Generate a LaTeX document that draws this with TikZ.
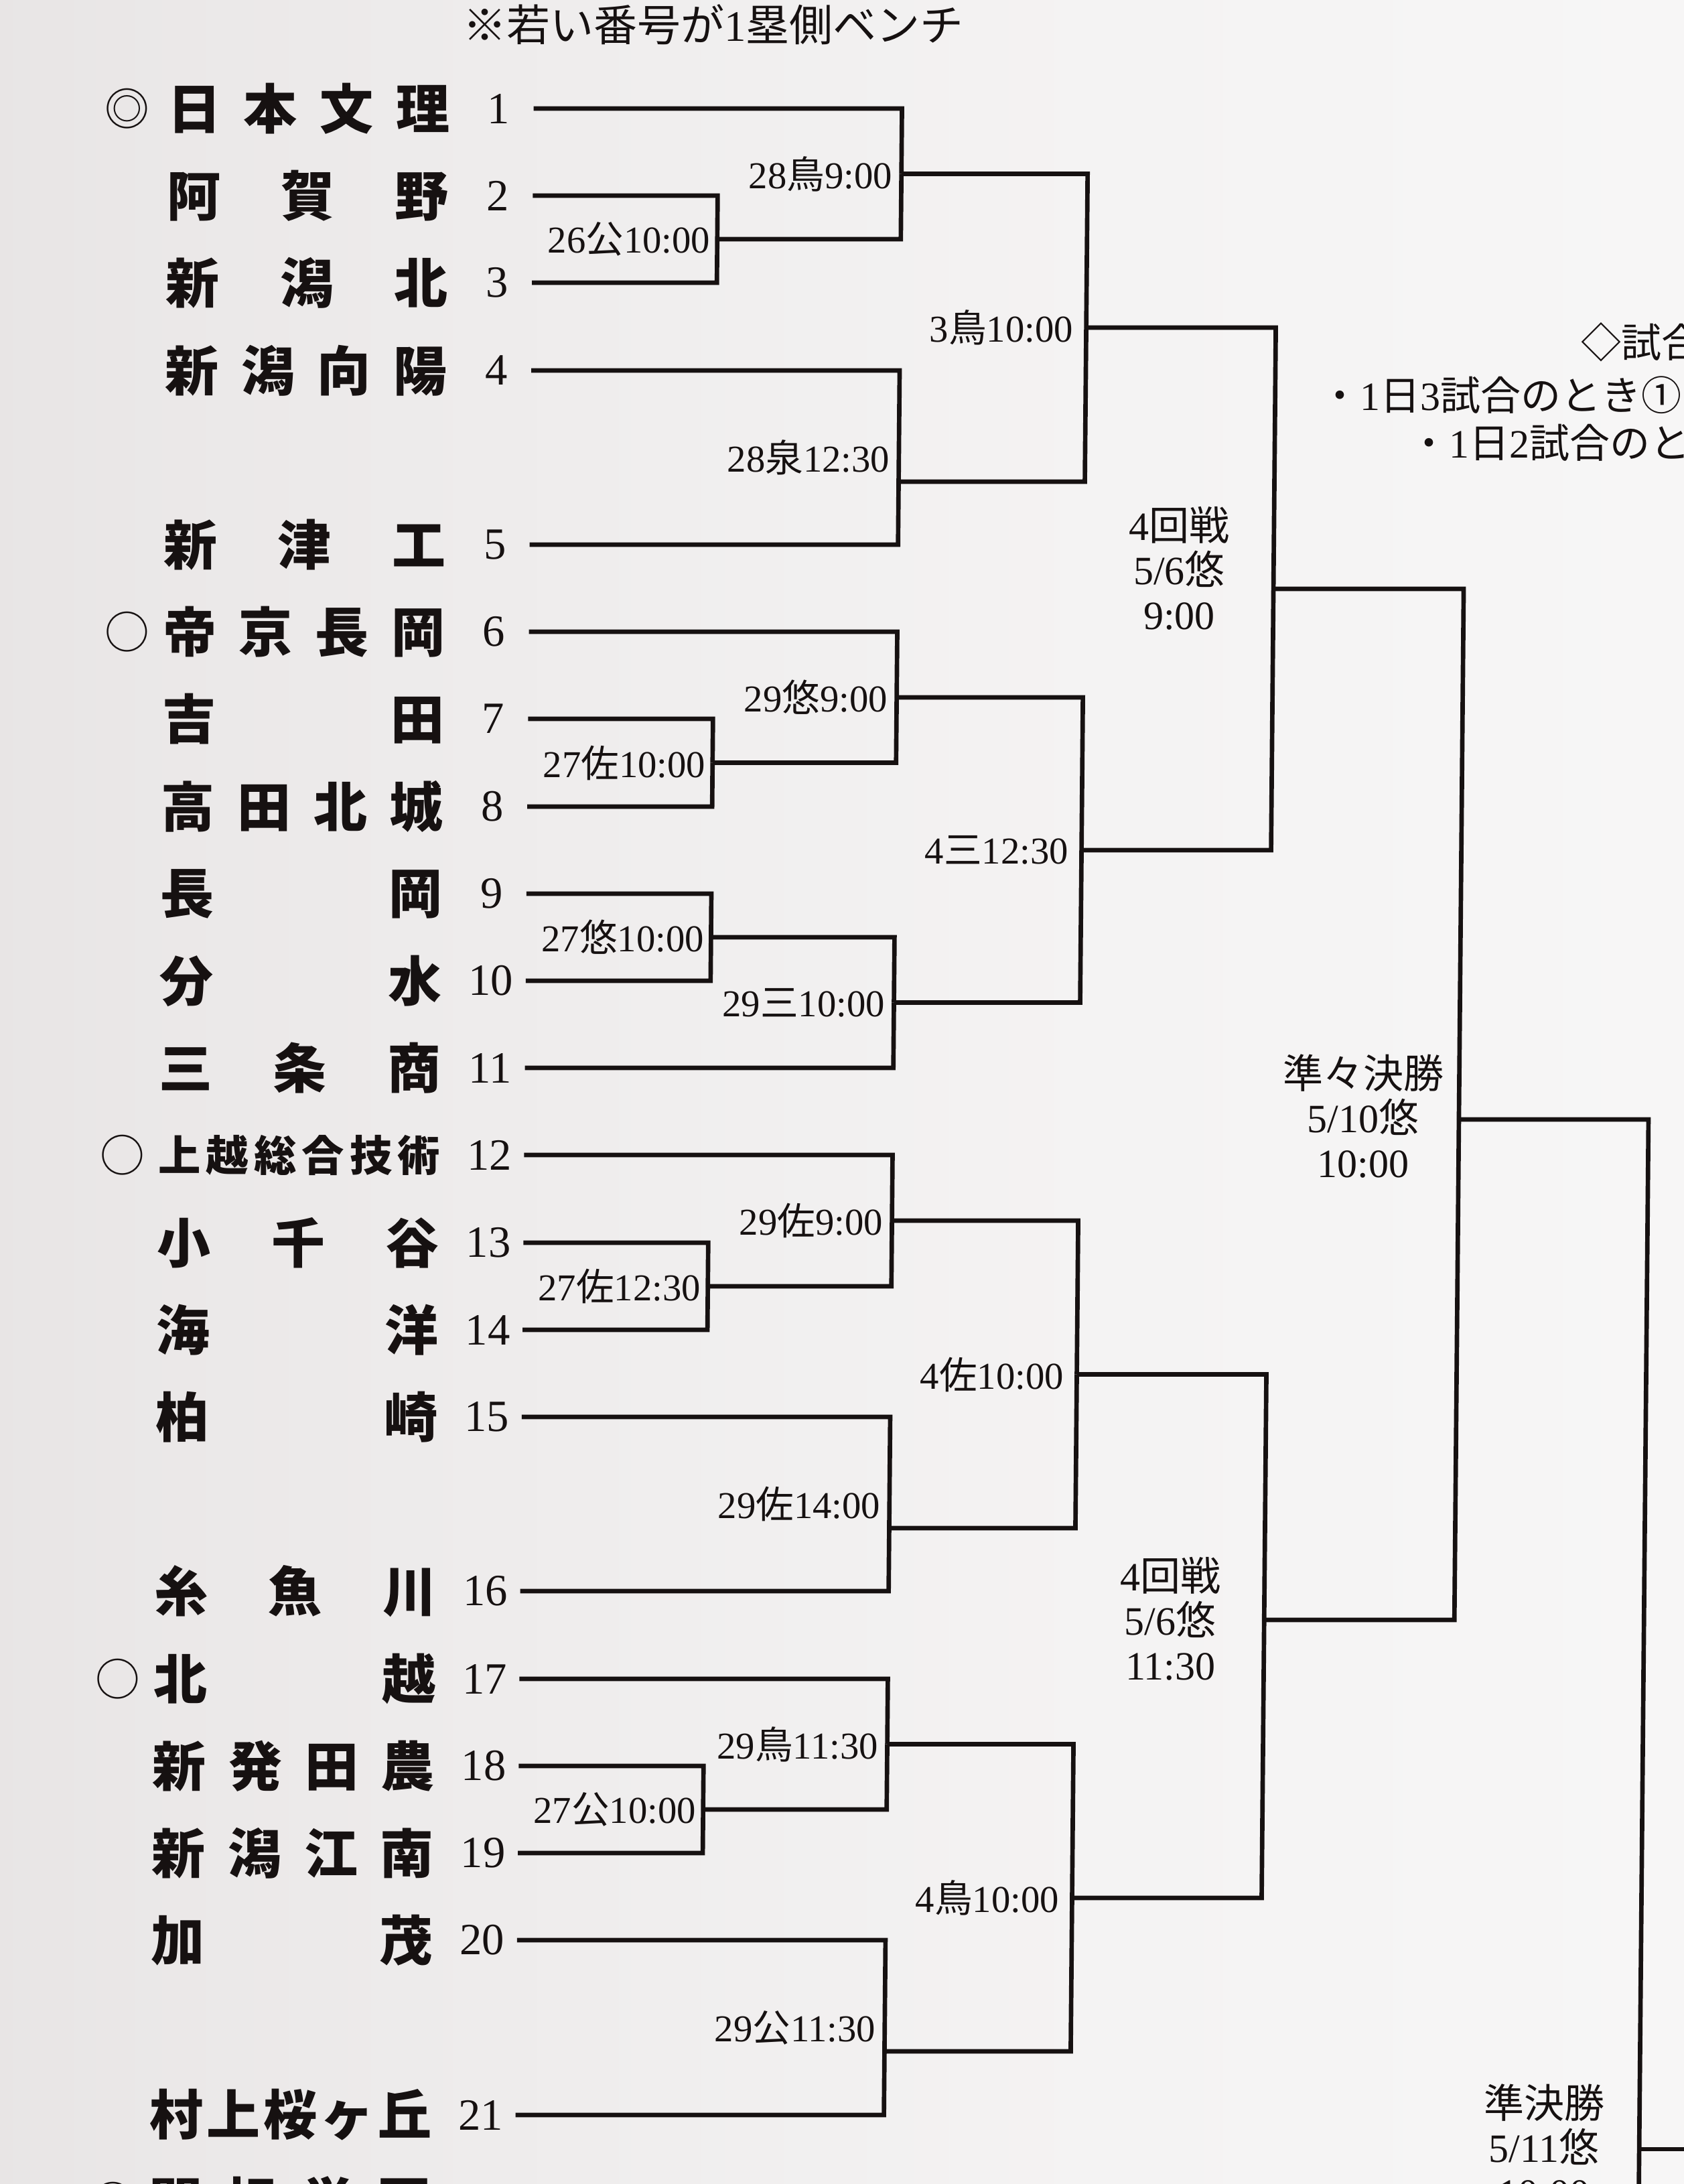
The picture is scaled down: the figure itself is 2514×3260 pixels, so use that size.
\documentclass[tikz,border=0pt]{standalone}
\usepackage{fontspec}
\setmainfont{Liberation Serif}
\newfontfamily\jp{Noto Sans CJK JP}
\newcommand\J[1]{{\jp #1}}
\newcommand\tn[1]{\hbox to 126.3pt{#1}}
\definecolor{ink}{RGB}{22,17,17}
\pgfdeclarehorizontalshading{paper}{100bp}{rgb(0bp)=(0.86,0.845,0.845); rgb(30bp)=(0.92,0.91,0.91); rgb(55bp)=(0.955,0.95,0.95); rgb(100bp)=(0.985,0.985,0.985)}
\begin{document}
\begin{tikzpicture}[x=0.3pt,y=-0.3pt,
  ln/.style={draw=ink,line width=2pt},
  team/.style={anchor=west,inner sep=0pt,text=ink,font=\fontsize{24}{28}\jp\bfseries},
  smallteam/.style={team,font=\fontsize{19}{24}\jp\bfseries},
  sym/.style={inner sep=0pt,text=ink,font=\fontsize{20}{24}\jp},
  num/.style={inner sep=0pt,text=ink,font=\fontsize{20}{24}\selectfont},
  lab/.style={anchor=east,inner sep=0pt,text=ink,font=\fontsize{17}{20}\selectfont},
  rnd/.style={align=center,inner sep=0pt,text=ink,font=\fontsize{18}{20}\selectfont},
  note/.style={anchor=west,inner sep=0pt,text=ink,font=\fontsize{18}{22}\selectfont}]
\useasboundingbox (0,0) rectangle (2514,3260);
\clip (0,0) rectangle (2514,3260);
\shade[shading=paper] (0,0) rectangle (2514,3260);

% header and notes
\node[note,anchor=center,font=\fontsize{19.5}{22}\selectfont] (head) at (1065,37) {\J{※若い番号が}1\J{塁側ベンチ}};
\node[note] (w1) at (2360,511) {\J{◇試合}};
\node[note] (w2) at (1970,590) {\J{・}1\J{日}3\J{試合のとき①}};
\node[note] (w3) at (2103,661) {\J{・}1\J{日}2\J{試合のと}};

\begin{scope}[xslant=0.009]
% team line start points
\coordinate (t1) at (798,162);
\coordinate (t2) at (798,292);
\coordinate (t3) at (798,422);
\coordinate (t4) at (798,553);
\coordinate (t5) at (798,813);
\coordinate (t6) at (798,943);
\coordinate (t7) at (798,1073);
\coordinate (t8) at (798,1204);
\coordinate (t9) at (798,1334);
\coordinate (t10) at (798,1464);
\coordinate (t11) at (798,1594);
\coordinate (t12) at (798,1724);
\coordinate (t13) at (798,1855);
\coordinate (t14) at (798,1985);
\coordinate (t15) at (798,2115);
\coordinate (t16) at (798,2375);
\coordinate (t17) at (798,2506);
\coordinate (t18) at (798,2636);
\coordinate (t19) at (798,2766);
\coordinate (t20) at (798,2896);
\coordinate (t21) at (798,3157);
% match junctions
\coordinate (m23) at (1074,357);
\coordinate (m78) at (1074,1138.5);
\coordinate (m910) at (1074,1399);
\coordinate (m1314) at (1074,1920);
\coordinate (m1819) at (1074,2701);
\coordinate (a1) at (1348,259.5);
\coordinate (a45) at (1348,719);
\coordinate (a6) at (1348,1041);
\coordinate (a11) at (1348,1496.5);
\coordinate (a12) at (1348,1822);
\coordinate (a1516) at (1348,2281);
\coordinate (a17) at (1348,2603.5);
\coordinate (a2021) at (1348,3062);
\coordinate (b1) at (1626,489);
\coordinate (b2) at (1626,1269);
\coordinate (b3) at (1626,2051.5);
\coordinate (b4) at (1626,2833);
\coordinate (c1) at (1909,879);
\coordinate (c2) at (1909,2418);
\coordinate (q) at (2193,1671);
\coordinate (s) at (2476,3208);
\coordinate (sbot) at (2476,3420);
\coordinate (send) at (2640,3208);

% bracket lines
\draw[ln] (t2) -| (m23);  \draw[ln] (t3) -| (m23);
\draw[ln] (t1) -| (a1);   \draw[ln] (m23) -| (a1);
\draw[ln] (t4) -| (a45);  \draw[ln] (t5) -| (a45);
\draw[ln] (a1) -| (b1);   \draw[ln] (a45) -| (b1);
\draw[ln] (t7) -| (m78);  \draw[ln] (t8) -| (m78);
\draw[ln] (t6) -| (a6);   \draw[ln] (m78) -| (a6);
\draw[ln] (t9) -| (m910); \draw[ln] (t10) -| (m910);
\draw[ln] (m910) -| (a11); \draw[ln] (t11) -| (a11);
\draw[ln] (a6) -| (b2);   \draw[ln] (a11) -| (b2);
\draw[ln] (b1) -| (c1);   \draw[ln] (b2) -| (c1);
\draw[ln] (t13) -| (m1314); \draw[ln] (t14) -| (m1314);
\draw[ln] (t12) -| (a12); \draw[ln] (m1314) -| (a12);
\draw[ln] (t15) -| (a1516); \draw[ln] (t16) -| (a1516);
\draw[ln] (a12) -| (b3);  \draw[ln] (a1516) -| (b3);
\draw[ln] (t18) -| (m1819); \draw[ln] (t19) -| (m1819);
\draw[ln] (t17) -| (a17); \draw[ln] (m1819) -| (a17);
\draw[ln] (t20) -| (a2021); \draw[ln] (t21) -| (a2021);
\draw[ln] (a17) -| (b4);  \draw[ln] (a2021) -| (b4);
\draw[ln] (b3) -| (c2);   \draw[ln] (b4) -| (c2);
\draw[ln] (c1) -| (q);    \draw[ln] (c2) -| (q);
\draw[ln] (q) -| (s);     \draw[ln] (sbot) -- (s);
\draw[ln] (s) -- (send);

% seed marks
\node[sym] (o1) at (191,162) {◎};
\node[sym] (o6) at (198,943) {○};
\node[sym] (o12) at (198,1724) {○};
\node[sym] (o17) at (198,2506) {○};
\node[sym] (o22) at (198,3287) {○};

% team names
\node[team] (n1) at (251,162) {\tn{日\hfill 本\hfill 文\hfill 理}};
\node[team] (n2) at (251,292) {\tn{阿\hfill 賀\hfill 野}};
\node[team] (n3) at (251,422) {\tn{新\hfill 潟\hfill 北}};
\node[team] (n4) at (251,553) {\tn{新\hfill 潟\hfill 向\hfill 陽}};
\node[team] (n5) at (251,813) {\tn{新\hfill 津\hfill 工}};
\node[team] (n6) at (251,943) {\tn{帝\hfill 京\hfill 長\hfill 岡}};
\node[team] (n7) at (251,1073) {\tn{吉\hfill 田}};
\node[team] (n8) at (251,1204) {\tn{高\hfill 田\hfill 北\hfill 城}};
\node[team] (n9) at (251,1334) {\tn{長\hfill 岡}};
\node[team] (n10) at (251,1464) {\tn{分\hfill 水}};
\node[team] (n11) at (251,1594) {\tn{三\hfill 条\hfill 商}};
\node[smallteam] (n12) at (251,1724) {\tn{上\hfill 越\hfill 総\hfill 合\hfill 技\hfill 術}};
\node[team] (n13) at (251,1855) {\tn{小\hfill 千\hfill 谷}};
\node[team] (n14) at (251,1985) {\tn{海\hfill 洋}};
\node[team] (n15) at (251,2115) {\tn{柏\hfill 崎}};
\node[team] (n16) at (251,2375) {\tn{糸\hfill 魚\hfill 川}};
\node[team] (n17) at (251,2506) {\tn{北\hfill 越}};
\node[team] (n18) at (251,2636) {\tn{新\hfill 発\hfill 田\hfill 農}};
\node[team] (n19) at (251,2766) {\tn{新\hfill 潟\hfill 江\hfill 南}};
\node[team] (n20) at (251,2896) {\tn{加\hfill 茂}};
\node[team] (n21) at (251,3157) {\tn{村\hfill 上\hfill 桜\hfill ヶ\hfill 丘}};
\node[team] (n22) at (251,3287) {\tn{関\hfill 根\hfill 学\hfill 園}};

% numbers
\node[num] (k1) at (746,162) {1};
\node[num] (k2) at (746,292) {2};
\node[num] (k3) at (746,422) {3};
\node[num] (k4) at (746,553) {4};
\node[num] (k5) at (746,813) {5};
\node[num] (k6) at (746,943) {6};
\node[num] (k7) at (746,1073) {7};
\node[num] (k8) at (746,1204) {8};
\node[num] (k9) at (746,1334) {9};
\node[num] (k10) at (746,1464) {10};
\node[num] (k11) at (746,1594) {11};
\node[num] (k12) at (746,1724) {12};
\node[num] (k13) at (746,1855) {13};
\node[num] (k14) at (746,1985) {14};
\node[num] (k15) at (746,2115) {15};
\node[num] (k16) at (746,2375) {16};
\node[num] (k17) at (746,2506) {17};
\node[num] (k18) at (746,2636) {18};
\node[num] (k19) at (746,2766) {19};
\node[num] (k20) at (746,2896) {20};
\node[num] (k21) at (746,3157) {21};

% match labels
\node[lab] (L23) at (1064,357) {26\J{公}10:00};
\node[lab] (L78) at (1064,1138.5) {27\J{佐}10:00};
\node[lab] (L910) at (1064,1399) {27\J{悠}10:00};
\node[lab] (L1314) at (1064,1920) {27\J{佐}12:30};
\node[lab] (L1819) at (1064,2701) {27\J{公}10:00};
\node[lab] (La1) at (1335,259.5) {28\J{鳥}9:00};
\node[lab] (La45) at (1335,683) {28\J{泉}12:30};
\node[lab] (La6) at (1335,1041) {29\J{悠}9:00};
\node[lab] (La11) at (1335,1496.5) {29\J{三}10:00};
\node[lab] (La12) at (1335,1822) {29\J{佐}9:00};
\node[lab] (La1516) at (1335,2245) {29\J{佐}14:00};
\node[lab] (La17) at (1335,2603.5) {29\J{鳥}11:30};
\node[lab] (La2021) at (1335,3026.5) {29\J{公}11:30};
\node[lab] (Lb1) at (1607,489) {3\J{鳥}10:00};
\node[lab] (Lb2) at (1607,1269) {4\J{三}12:30};
\node[lab] (Lb3) at (1607,2051.5) {4\J{佐}10:00};
\node[lab] (Lb4) at (1607,2833) {4\J{鳥}10:00};
\node[rnd] (Lc1) at (1768,848) {4\J{回戦}\\5/6\J{悠}\\9:00};
\node[rnd] (Lc2) at (1769,2416) {4\J{回戦}\\5/6\J{悠}\\11:30};
\node[rnd] (Lq) at (2050,1666) {\J{準々決勝}\\5/10\J{悠}\\10:00};
\node[rnd] (Ls) at (2334,3203) {\J{準決勝}\\5/11\J{悠}\\10:00};
\end{scope}
\end{tikzpicture}
\end{document}
